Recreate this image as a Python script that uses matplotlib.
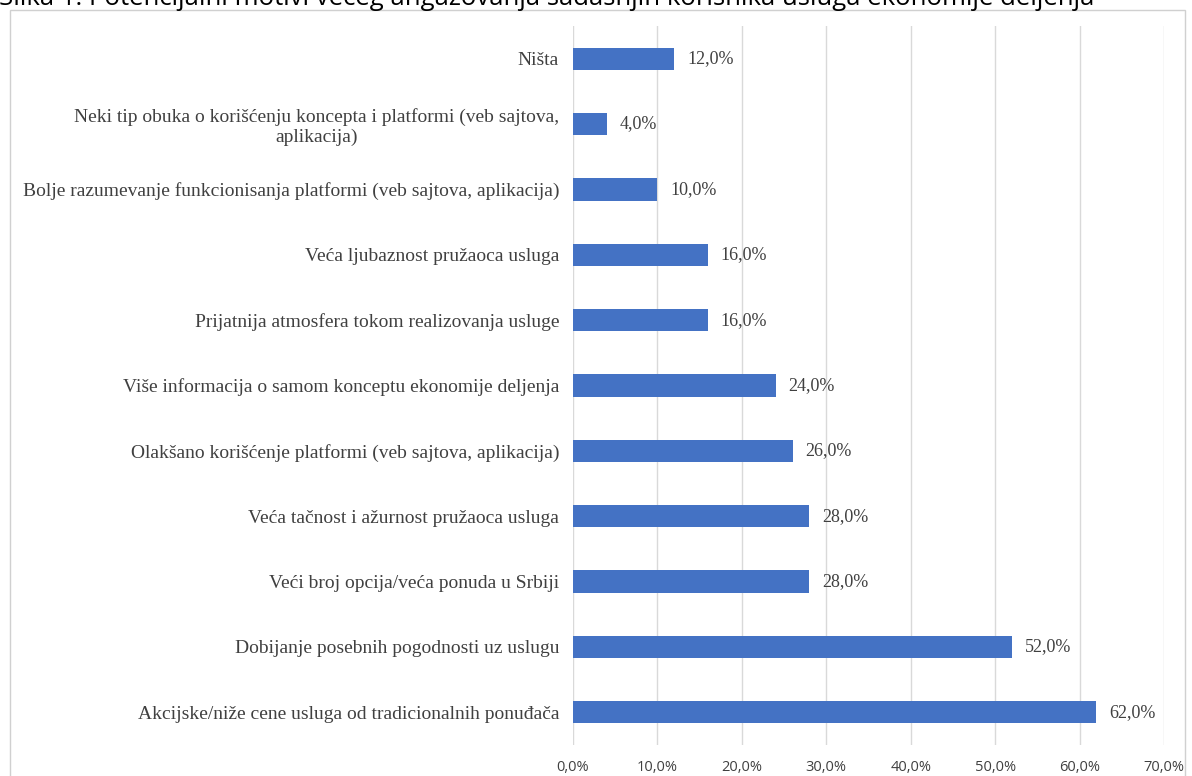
import matplotlib.pyplot as plt
from matplotlib.patches import Rectangle

kategorije = [
    'Ništa',
    'Neki tip obuka o korišćenju koncepta i platformi (veb sajtova,\naplikacija)',
    'Bolje razumevanje funkcionisanja platformi (veb sajtova, aplikacija)',
    'Veća ljubaznost pružaoca usluga',
    'Prijatnija atmosfera tokom realizovanja usluge',
    'Više informacija o samom konceptu ekonomije deljenja',
    'Olakšano korišćenje platformi (veb sajtova, aplikacija)',
    'Veća tačnost i ažurnost pružaoca usluga',
    'Veći broj opcija/veća ponuda u Srbiji',
    'Dobijanje posebnih pogodnosti uz uslugu',
    'Akcijske/niže cene usluga od tradicionalnih ponuđača',
]
procenti = [12.0, 4.0, 10.0, 16.0, 16.0, 24.0, 26.0, 28.0, 28.0, 52.0, 62.0]
x_oznake = ['0,0%', '10,0%', '20,0%', '30,0%', '40,0%', '50,0%', '60,0%', '70,0%']

fig = plt.figure(figsize=(11.92, 7.76), dpi=100)
ax = fig.add_axes([573 / 1192, 1 - 745 / 776, (1164 - 573) / 1192, 719 / 776])

# okvir grafikona
fig.patches.append(Rectangle((10 / 1192, -0.05), (1185 - 10) / 1192, 1 - 10 / 776 + 0.05,
                             transform=fig.transFigure, fill=False,
                             edgecolor='#D0D0D0', linewidth=1))

y = list(range(len(kategorije)))
ax.barh(y, procenti, height=0.34, color='#4472C4', zorder=3)
for yi, v in zip(y, procenti):
    ax.text(v + 1.5, yi, f'{v:.1f}%'.replace('.', ','), va='center', ha='left',
            fontsize=13, family='Liberation Serif', color='#404040', zorder=4)

ax.set_ylim(len(kategorije) - 0.5, -0.5)
ax.set_xlim(0, 70)
ax.set_xticks(range(0, 71, 10))
ax.set_xticklabels(x_oznake, family='Open Sans', fontsize=10.5, color='#404040')
ax.set_yticks(y)
ax.set_yticklabels(kategorije, family='Liberation Serif', fontsize=14, color='#404040')
for lab in ax.get_yticklabels():
    lab.set_multialignment('center')
ax.tick_params(axis='both', length=0)
ax.tick_params(axis='y', pad=10)
ax.tick_params(axis='x', pad=11)
ax.grid(axis='x', color='#D9D9D9', linewidth=1, zorder=0)
for s in ax.spines.values():
    s.set_visible(False)

fig.text(-1 / 1192, 1 - 5 / 776,
         'Slika 1: Potencijalni motivi većeg angažovanja sadašnjih korisnika usluga ekonomije deljenja',
         ha='left', va='baseline', fontsize=18.5, family='Open Sans', color='#000000')

fig.savefig('out.png', dpi=100)
